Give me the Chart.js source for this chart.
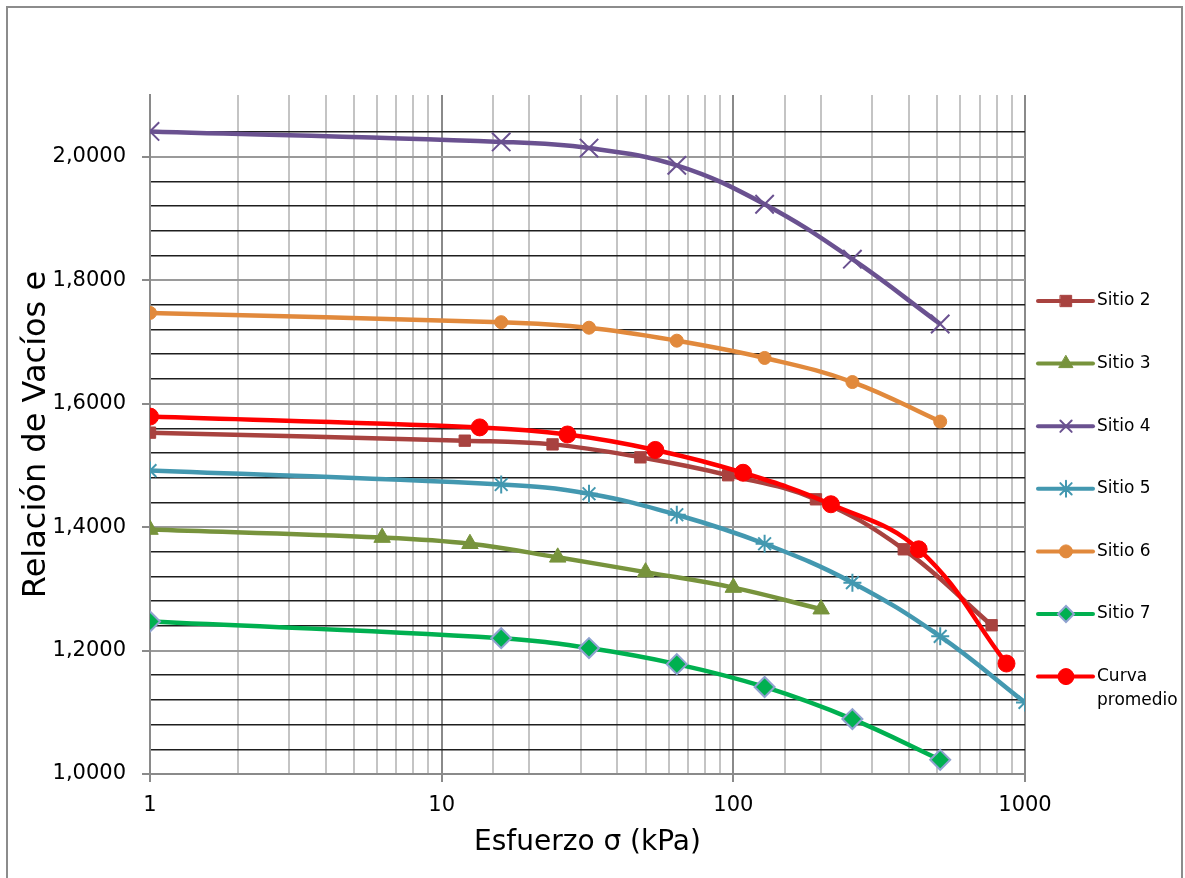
<!DOCTYPE html>
<html>
<head>
<meta charset="utf-8">
<script src="https://cdn.jsdelivr.net/npm/chart.js"></script>
<style>
  html, body { margin: 0; padding: 0; background: #fff; }
  #wrap { width: 1185px; height: 878px; }
</style>
</head>
<body>
<div id="wrap"><canvas id="chart" width="1185" height="878"></canvas></div>
<script>
// Curvas de compresibilidad (relación de vacíos vs esfuerzo)
const sitio2X = [1, 12, 24, 48, 96, 192, 384, 768];
const sitio2Y = [1.553, 1.540, 1.534, 1.513, 1.484, 1.445, 1.364, 1.241];

const sitio3X = [1, 6.25, 12.5, 25, 50, 100, 200];
const sitio3Y = [1.396, 1.383, 1.373, 1.351, 1.327, 1.302, 1.267];

const sitio4X = [1, 16, 32, 64, 128, 256, 512];
const sitio4Y = [2.041, 2.024, 2.014, 1.986, 1.923, 1.834, 1.729];

const sitio5X = [1, 16, 32, 64, 128, 256, 512, 1000];
const sitio5Y = [1.4915, 1.469, 1.454, 1.420, 1.373, 1.310, 1.223, 1.116];

const sitio6X = [1, 16, 32, 64, 128, 256, 512];
const sitio6Y = [1.747, 1.732, 1.723, 1.702, 1.674, 1.635, 1.571];

const sitio7X = [1, 16, 32, 64, 128, 256, 512];
const sitio7Y = [1.247, 1.220, 1.204, 1.178, 1.141, 1.089, 1.023];

const promedioX = [1, 13.5, 27, 54, 108, 216, 432, 864];
const promedioY = [1.579, 1.5615, 1.550, 1.525, 1.488, 1.437, 1.364, 1.179];

const xDecades = [1, 10, 100, 1000];
const yLabelStep = 0.2;

const FONT = "'DejaVu Sans', Verdana, sans-serif";

function pts(xs, ys) {
    return xs.map((x, i) => ({ x: x, y: ys[i] }));
}

function isDecade(v) {
    return xDecades.some(d => Math.abs(v - d) < 1e-9);
}

function isMajorY(v) {
    const k = v / yLabelStep;
    return Math.abs(k - Math.round(k)) < 1e-6;
}

function serie(label, xs, ys, color, style, extra) {
    return Object.assign({
        label: label,
        data: pts(xs, ys),
        showLine: true,
        borderColor: color,
        backgroundColor: color,
        borderWidth: 4.5,
        tension: 0.4,
        pointStyle: style,
        pointBackgroundColor: color,
        pointBorderColor: color,
        pointBorderWidth: 1,
        pointRadius: 7,
        pointHoverRadius: 7
    }, extra || {});
}

const datasets = [
    serie('Sitio 2', sitio2X, sitio2Y, '#a8423f', 'rect', { pointRadius: 8, order: 6 }),
    serie('Sitio 3', sitio3X, sitio3Y, '#77933c', 'triangle', { pointRadius: 9.5, order: 5 }),
    serie('Sitio 4', sitio4X, sitio4Y, '#6a5190', 'crossRot', { pointRadius: 13, pointBorderWidth: 2, order: 4 }),
    serie('Sitio 5', sitio5X, sitio5Y, '#4398b0', 'star', { pointRadius: 9, pointBorderWidth: 2, order: 3 }),
    serie('Sitio 6', sitio6X, sitio6Y, '#e1893c', 'circle', { pointRadius: 6.5, order: 2 }),
    serie('Sitio 7', sitio7X, sitio7Y, '#00b050', 'rectRot', {
        pointRadius: 10, pointBorderColor: '#8fa2d0', pointBorderWidth: 2, order: 1
    }),
    serie('Curva promedio', promedioX, promedioY, '#ff0000', 'circle', { pointRadius: 8.5, order: 0 })
];

// marco exterior gris
const framePlugin = {
    id: 'frame',
    beforeDraw(chart) {
        const ctx = chart.ctx;
        ctx.save();
        ctx.fillStyle = '#ffffff';
        ctx.fillRect(0, 0, chart.width, chart.height);
        ctx.strokeStyle = '#8c8c8c';
        ctx.lineWidth = 2;
        ctx.strokeRect(7, 7, 1175, 900);
        ctx.restore();
    }
};

// leyenda a la derecha: línea + marcador
const legendPlugin = {
    id: 'sideLegend',
    afterDraw(chart) {
        const ctx = chart.ctx;
        const x0 = 1038, x1 = 1093, xm = 1066, xt = 1097;
        let y = 301;
        ctx.save();
        chart.data.datasets.forEach(ds => {
            ctx.strokeStyle = ds.borderColor;
            ctx.lineWidth = 4;
            ctx.lineCap = 'round';
            ctx.beginPath();
            ctx.moveTo(x0, y);
            ctx.lineTo(x1, y);
            ctx.stroke();
            if (Chart.helpers && Chart.helpers.drawPoint) {
                ctx.fillStyle = ds.pointBackgroundColor;
                ctx.strokeStyle = ds.pointBorderColor;
                ctx.lineWidth = ds.pointBorderWidth;
                Chart.helpers.drawPoint(ctx, {
                    pointStyle: ds.pointStyle,
                    radius: Math.min(ds.pointRadius, 8),
                    rotation: 0,
                    borderWidth: ds.pointBorderWidth
                }, xm, y);
            }
            ctx.fillStyle = '#000';
            ctx.font = '17px ' + FONT;
            ctx.textBaseline = 'middle';
            ctx.textAlign = 'left';
            const words = ds.label.split(' ');
            if (ds.label.length > 10) {
                ctx.fillText(words[0], xt, y);
                ctx.fillText(words.slice(1).join(' '), xt, y + 24);
            } else {
                ctx.fillText(ds.label, xt, y);
            }
            y += 62.6;
        });
        ctx.restore();
    }
};

new Chart(document.getElementById('chart'), {
    type: 'scatter',
    data: { datasets: datasets },
    options: {
        responsive: false,
        animation: false,
        layout: { padding: { top: 95, right: 160, left: 0, bottom: 0 } },
        plugins: {
            legend: { display: false },
            tooltip: { enabled: false }
        },
        scales: {
            x: {
                type: 'logarithmic',
                min: 1,
                max: 1000,
                afterFit(scale) { scale.height = 104; },
                border: { display: true, color: '#8a8a8a', width: 2 },
                grid: {
                    lineWidth: 2,
                    tickLength: 8,
                    color: c => isDecade(c.tick.value) ? '#8a8a8a' : '#c4c4c4',
                    tickColor: c => isDecade(c.tick.value) ? '#8a8a8a' : 'rgba(0,0,0,0)'
                },
                ticks: {
                    autoSkip: false,
                    maxRotation: 0,
                    padding: 11,
                    color: '#000',
                    font: { family: FONT, size: 21 },
                    callback: v => isDecade(v) ? String(v) : ''
                },
                title: {
                    display: true,
                    text: 'Esfuerzo σ (kPa)',
                    color: '#000',
                    font: { family: FONT, size: 28 },
                    padding: { top: 0, bottom: 18 }
                }
            },
            y: {
                type: 'linear',
                min: 1.0,
                max: 2.1,
                afterFit(scale) { scale.width = 150; },
                border: { display: true, color: '#8a8a8a', width: 2 },
                grid: {
                    tickLength: 8,
                    lineWidth: c => isMajorY(c.tick.value) ? 2 : 1.6,
                    color: c => {
                        const v = c.tick.value;
                        if (v > 2.09) return 'rgba(0,0,0,0)';
                        return isMajorY(v) ? '#9a9a9a' : '#1e1e1e';
                    },
                    tickColor: c => isMajorY(c.tick.value) ? '#8a8a8a' : 'rgba(0,0,0,0)'
                },
                ticks: {
                    stepSize: 0.04,
                    autoSkip: false,
                    padding: 16,
                    color: '#000',
                    font: { family: FONT, size: 21 },
                    callback: v => isMajorY(v) ? v.toFixed(4).replace('.', ',') : ''
                },
                title: {
                    display: true,
                    text: 'Relación de Vacíos e',
                    color: '#000',
                    font: { family: FONT, size: 32 },
                    padding: { top: 17, bottom: 0 }
                }
            }
        }
    },
    plugins: [framePlugin, legendPlugin]
});
</script>
</body>
</html>
